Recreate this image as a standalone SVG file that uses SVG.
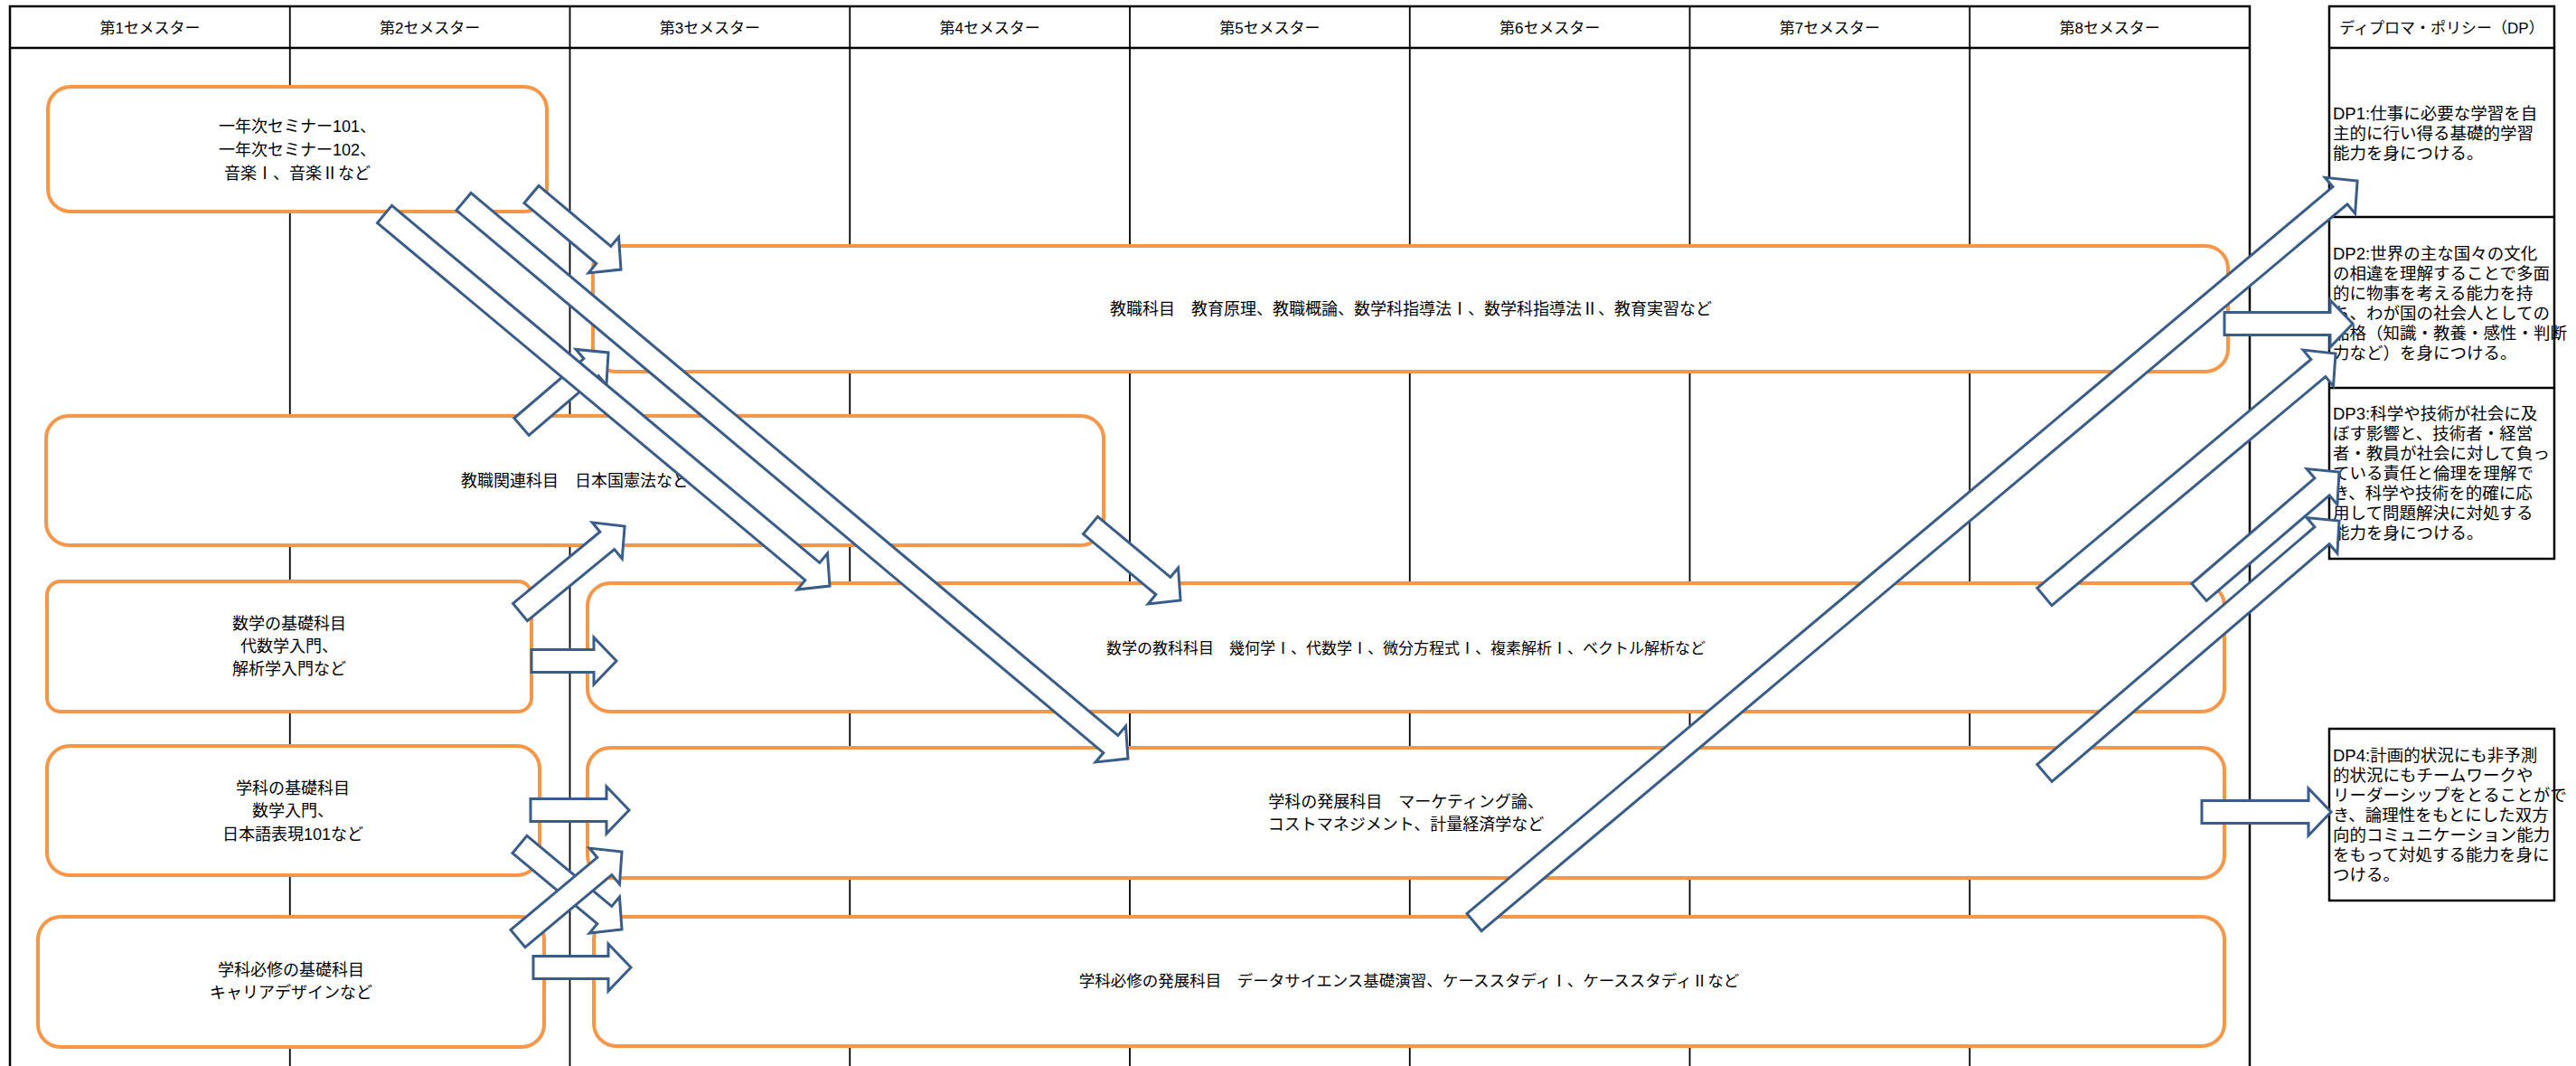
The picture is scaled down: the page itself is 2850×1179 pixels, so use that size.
<svg xmlns="http://www.w3.org/2000/svg" width="2850" height="1179" viewBox="0 0 2850 1179">
<style>
text{font-family:"Liberation Sans","Noto Sans CJK JP",sans-serif;fill:#000;dominant-baseline:central}
.hd{font-size:17px;text-anchor:middle}
.bx{font-size:18px;text-anchor:middle}
.dp{font-size:18.5px;text-anchor:start}
.box{fill:#fff;stroke:#F79646;stroke-width:4}
.grid{stroke:#000;stroke-width:1.8;fill:none}
.outer{stroke:#000;stroke-width:2.5;fill:none}
.arr{fill:#fff;stroke:#385D8A;stroke-width:3;stroke-linejoin:miter}
</style>
<rect width="2850" height="1179" fill="#fff"/>
<g id="semester-table">
<line class="grid" x1="320.75" y1="7" x2="320.75" y2="1179"/>
<line class="grid" x1="630.5" y1="7" x2="630.5" y2="1179"/>
<line class="grid" x1="940.25" y1="7" x2="940.25" y2="1179"/>
<line class="grid" x1="1250" y1="7" x2="1250" y2="1179"/>
<line class="grid" x1="1559.75" y1="7" x2="1559.75" y2="1179"/>
<line class="grid" x1="1869.5" y1="7" x2="1869.5" y2="1179"/>
<line class="grid" x1="2179.25" y1="7" x2="2179.25" y2="1179"/>
<path class="outer" d="M11,1179 V7 H2489 V1179"/>
<line class="outer" x1="11" y1="53" x2="2489" y2="53"/>
<text class="hd" x="166" y="31">第1セメスター</text>
<text class="hd" x="475.6" y="31">第2セメスター</text>
<text class="hd" x="785.4" y="31">第3セメスター</text>
<text class="hd" x="1095.1" y="31">第4セメスター</text>
<text class="hd" x="1404.9" y="31">第5セメスター</text>
<text class="hd" x="1714.6" y="31">第6セメスター</text>
<text class="hd" x="2024.4" y="31">第7セメスター</text>
<text class="hd" x="2334.1" y="31">第8セメスター</text>
</g>
<g id="dp-table">
<rect class="outer" x="2577" y="7" width="249" height="611"/>
<line class="outer" x1="2577" y1="53" x2="2826" y2="53"/>
<line class="outer" x1="2577" y1="240" x2="2826" y2="240"/>
<line class="outer" x1="2577" y1="429" x2="2826" y2="429"/>
<text class="hd" x="2701.5" y="31">ディプロマ・ポリシー（DP）</text>
</g>
<g id="dp1">
<text class="dp" x="2581" y="125">DP1:仕事に必要な学習を自</text>
<text class="dp" x="2581" y="147">主的に行い得る基礎的学習</text>
<text class="dp" x="2581" y="169">能力を身につける。</text>
</g>
<g id="dp2">
<text class="dp" x="2581" y="280">DP2:世界の主な国々の文化</text>
<text class="dp" x="2581" y="302">の相違を理解することで多面</text>
<text class="dp" x="2581" y="324">的に物事を考える能力を持</text>
<text class="dp" x="2581" y="346">ち、わが国の社会人としての</text>
<text class="dp" x="2581" y="368">品格（知識・教養・感性・判断</text>
<text class="dp" x="2581" y="390">力など）を身につける。</text>
</g>
<g id="dp3">
<text class="dp" x="2581" y="457.5">DP3:科学や技術が社会に及</text>
<text class="dp" x="2581" y="479.5">ぼす影響と、技術者・経営</text>
<text class="dp" x="2581" y="501.5">者・教員が社会に対して負っ</text>
<text class="dp" x="2581" y="523.5">ている責任と倫理を理解で</text>
<text class="dp" x="2581" y="545.5">き、科学や技術を的確に応</text>
<text class="dp" x="2581" y="567.5">用して問題解決に対処する</text>
<text class="dp" x="2581" y="589.5">能力を身につける。</text>
</g>
<g id="dp4">
<rect class="outer" x="2577" y="806" width="249" height="190"/>
<text class="dp" x="2581" y="835">DP4:計画的状況にも非予測</text>
<text class="dp" x="2581" y="857">的状況にもチームワークや</text>
<text class="dp" x="2581" y="879">リーダーシップをとることがで</text>
<text class="dp" x="2581" y="901">き、論理性をもとにした双方</text>
<text class="dp" x="2581" y="923">向的コミュニケーション能力</text>
<text class="dp" x="2581" y="945">をもって対処する能力を身に</text>
<text class="dp" x="2581" y="967">つける。</text>
</g>
<g id="seminar">
<rect class="box" x="53" y="96" width="552" height="138" rx="25"/>
<text class="bx" x="329" y="140">一年次セミナー101、</text>
<text class="bx" x="329" y="166">一年次セミナー102、</text>
<text class="bx" x="329" y="192">音楽Ⅰ、音楽Ⅱなど</text>
</g>
<g id="kyoshoku">
<rect class="box" x="656" y="272" width="1809" height="139" rx="25"/>
<text class="bx" x="1561" y="342">教職科目　教育原理、教職概論、数学科指導法Ⅰ、数学科指導法Ⅱ、教育実習など</text>
</g>
<g id="kyoshoku-kanren">
<rect class="box" x="51" y="460" width="1170" height="143" rx="25"/>
<text class="bx" x="636" y="532">教職関連科目　日本国憲法など</text>
</g>
<g id="math-basic">
<rect class="box" x="52" y="643" width="536" height="144" rx="15"/>
<text class="bx" x="320" y="690">数学の基礎科目</text>
<text class="bx" x="320" y="715">代数学入門、</text>
<text class="bx" x="320" y="740">解析学入門など</text>
</g>
<g id="math-subject">
<rect class="box" x="650" y="645" width="1811" height="142" rx="25"/>
<text class="bx" x="1555.5" y="717" style="font-size:17px">数学の教科科目　幾何学Ⅰ、代数学Ⅰ、微分方程式Ⅰ、複素解析Ⅰ、ベクトル解析など</text>
</g>
<g id="dept-basic">
<rect class="box" x="52" y="825" width="545" height="143" rx="25"/>
<text class="bx" x="324" y="872">学科の基礎科目</text>
<text class="bx" x="324" y="897">数学入門、</text>
<text class="bx" x="324" y="923">日本語表現101など</text>
</g>
<g id="dept-advanced">
<rect class="box" x="650" y="827" width="1811" height="144" rx="25"/>
<text class="bx" x="1555.5" y="887">学科の発展科目　マーケティング論、</text>
<text class="bx" x="1555.5" y="912">コストマネジメント、計量経済学など</text>
</g>
<g id="required-basic">
<rect class="box" x="42" y="1014" width="560" height="144" rx="25"/>
<text class="bx" x="322" y="1073">学科必修の基礎科目</text>
<text class="bx" x="322" y="1098">キャリアデザインなど</text>
</g>
<g id="required-advanced">
<rect class="box" x="657" y="1014" width="1804" height="143" rx="25"/>
<text class="bx" x="1559" y="1085" style="font-size:17.5px">学科必修の発展科目　データサイエンス基礎演習、ケーススタディⅠ、ケーススタディⅡなど</text>
</g>
<g id="connectors">
<path class="arr" transform="translate(513,223) rotate(39.97)" d="M0,-12.5 H934 V-26 L959,0 L934,26 V12.5 H0 Z"/>
<path class="arr" transform="translate(577,472) rotate(-40.5)" d="M0,-12.5 H101.3 V-26 L126.3,0 L101.3,26 V12.5 H0 Z"/>
<path class="arr" transform="translate(425.5,237) rotate(39.85)" d="M0,-12.5 H616.5 V-26 L641.5,0 L616.5,26 V12.5 H0 Z"/>
<path class="arr" transform="translate(588,215) rotate(40)" d="M0,-12.5 H104.2 V-26 L129.2,0 L104.2,26 V12.5 H0 Z"/>
<path class="arr" transform="translate(1206.5,581) rotate(39.8)" d="M0,-12.5 H104.6 V-26 L129.6,0 L104.6,26 V12.5 H0 Z"/>
<path class="arr" transform="translate(575.5,677) rotate(-39.4)" d="M0,-12.5 H124.6 V-26 L149.6,0 L124.6,26 V12.5 H0 Z"/>
<path class="arr" transform="translate(588,731)" d="M0,-12.5 H69 V-26 L94,0 L69,26 V12.5 H0 Z"/>
<path class="arr" transform="translate(587,896)" d="M0,-12.5 H84 V-26 L109,0 L84,26 V12.5 H0 Z"/>
<path class="arr" transform="translate(575,934) rotate(39.76)" d="M0,-12.5 H122 V-26 L147,0 L122,26 V12.5 H0 Z"/>
<path class="arr" transform="translate(573,1038) rotate(-39.85)" d="M0,-12.5 H124.8 V-26 L149.8,0 L124.8,26 V12.5 H0 Z"/>
<path class="arr" transform="translate(590,1070)" d="M0,-12.5 H83 V-26 L108,0 L83,26 V12.5 H0 Z"/>
<path class="arr" transform="translate(1631,1020) rotate(-40)" d="M0,-12.5 H1250.5 V-26 L1275.5,0 L1250.5,26 V12.5 H0 Z"/>
<path class="arr" transform="translate(2262,660) rotate(-39.87)" d="M0,-12.5 H394.6 V-26 L419.6,0 L394.6,26 V12.5 H0 Z"/>
<path class="arr" transform="translate(2433,655) rotate(-40.63)" d="M0,-12.5 H179.2 V-26 L204.2,0 L179.2,26 V12.5 H0 Z"/>
<path class="arr" transform="translate(2262,855) rotate(-40.56)" d="M0,-12.5 H404.1 V-26 L429.1,0 L404.1,26 V12.5 H0 Z"/>
<path class="arr" transform="translate(2461,358)" d="M0,-12.5 H117 V-26 L142,0 L117,26 V12.5 H0 Z"/>
<path class="arr" transform="translate(2436,898)" d="M0,-12.5 H118 V-26 L143,0 L118,26 V12.5 H0 Z"/>
</g>
</svg>
